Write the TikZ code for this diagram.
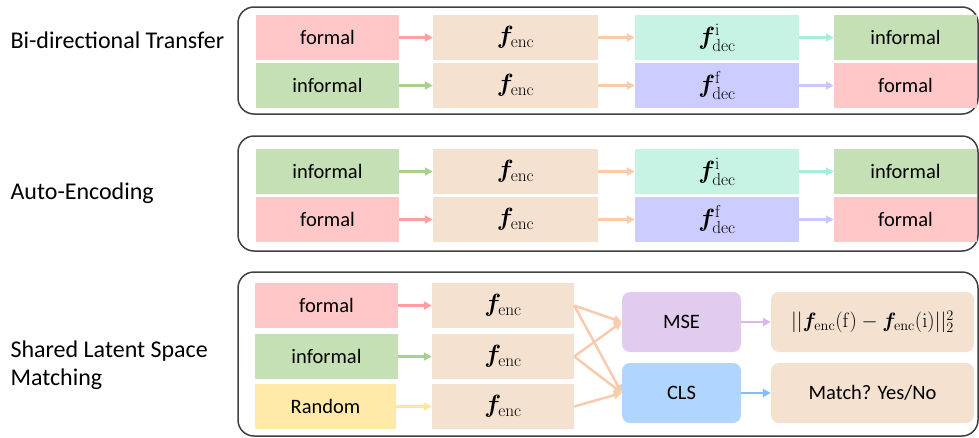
\documentclass[tikz,border=0pt]{standalone}
\usepackage{amsmath,bm}
\usepackage[no-math]{fontspec}
\setmainfont{Carlito}
\usetikzlibrary{arrows.meta}
\definecolor{formalc}{HTML}{FFC7C7}
\definecolor{informalc}{HTML}{C5E0B4}
\definecolor{encc}{HTML}{F4E1D0}
\definecolor{decic}{HTML}{C6F3E3}
\definecolor{decfc}{HTML}{CCCCFF}
\definecolor{randc}{HTML}{FFEAAA}
\definecolor{msec}{HTML}{E1CCF0}
\definecolor{clsc}{HTML}{B0D6FF}
\definecolor{formala}{HTML}{FF9F9F}
\definecolor{informala}{HTML}{A9D18E}
\definecolor{enca}{HTML}{F8CBAD}
\definecolor{decia}{HTML}{A6EEDC}
\definecolor{decfa}{HTML}{C8C8FF}
\definecolor{randa}{HTML}{FFE699}
\definecolor{msea}{HTML}{D9B6F0}
\definecolor{clsa}{HTML}{80BFFF}
\newcommand{\fenc}{{\fontsize{23.5}{27}\selectfont$\bm{f}_{\mathrm{enc}}$}}
\newcommand{\fdec}[1]{{\fontsize{23.5}{27}\selectfont$\bm{f}^{\mathrm{#1}}_{\mathrm{dec}}$}}
\begin{document}
\begin{tikzpicture}[x=1pt,y=-1pt,font=\fontsize{20.5}{24}\selectfont]
\tikzstyle{panel} = [draw=black!75, line width=1.5pt, rounded corners=16pt] % рамка блока
\tikzstyle{box} = [rectangle, inner sep=0pt, minimum height=45pt] % прямоугольник
\tikzstyle{wbox} = [box, minimum width=143pt] % вход / выход
\tikzstyle{fbox} = [box, minimum width=165pt] % энкодер, декодер
\tikzstyle{rbox} = [rectangle, rounded corners=8pt, inner sep=0pt, minimum height=60pt] % MSE, CLS
\tikzstyle{arr} = [line width=2.5pt, -{Triangle[length=8pt,width=8pt]}] % стрелка
\tikzstyle{title} = [anchor=west, align=left, font=\fontsize{24}{28}\selectfont] % подпись слева
\useasboundingbox (0,0) rectangle (979,437);
% рамки
\draw[panel] (238,7) rectangle (978,114);
\draw[panel] (238,136) rectangle (978,251);
\draw[panel] (238,272) rectangle (978,436);
% подписи
\node[title] (t1) at (7,40) {Bi-directional Transfer};
\node[title] (t2) at (7,193) {Auto-Encoding};
\node[title] (t3) at (7,365) {Shared Latent Space\\Matching};
% Bi-directional Transfer
\node[wbox, fill=formalc] (a1) at (327.5,37.5) {formal};
\node[fbox, fill=encc] (a2) at (515.5,37.5) {\fenc};
\node[fbox, fill=decic, minimum width=164pt] (a3) at (717,37.5) {\fdec{i}};
\node[wbox, fill=informalc] (a4) at (905.5,37.5) {informal};
\node[wbox, fill=informalc] (b1) at (327.5,85.5) {informal};
\node[fbox, fill=encc] (b2) at (515.5,85.5) {\fenc};
\node[fbox, fill=decfc, minimum width=164pt] (b3) at (717,85.5) {\fdec{f}};
\node[wbox, fill=formalc] (b4) at (905.5,85.5) {formal};
\draw[arr, formala] (a1) -- (a2);
\draw[arr, enca] (a2) -- (a3);
\draw[arr, decia] (a3) -- (a4);
\draw[arr, informala] (b1) -- (b2);
\draw[arr, enca] (b2) -- (b3);
\draw[arr, decfa] (b3) -- (b4);
% Auto-Encoding
\node[wbox, fill=informalc] (c1) at (327.5,171.5) {informal};
\node[fbox, fill=encc] (c2) at (515.5,171.5) {\fenc};
\node[fbox, fill=decic, minimum width=164pt] (c3) at (717,171.5) {\fdec{i}};
\node[wbox, fill=informalc] (c4) at (905.5,171.5) {informal};
\node[wbox, fill=formalc] (d1) at (327.5,219.5) {formal};
\node[fbox, fill=encc] (d2) at (515.5,219.5) {\fenc};
\node[fbox, fill=decfc, minimum width=164pt] (d3) at (717,219.5) {\fdec{f}};
\node[wbox, fill=formalc] (d4) at (905.5,219.5) {formal};
\draw[arr, informala] (c1) -- (c2);
\draw[arr, enca] (c2) -- (c3);
\draw[arr, decia] (c3) -- (c4);
\draw[arr, formala] (d1) -- (d2);
\draw[arr, enca] (d2) -- (d3);
\draw[arr, decfa] (d3) -- (d4);
% Shared Latent Space Matching
\node[wbox, fill=formalc] (e1) at (326.5,305.5) {formal};
\node[wbox, fill=informalc] (f1) at (326.5,356.5) {informal};
\node[wbox, fill=randc, minimum width=141pt] (g1) at (325.5,406.5) {Random};
\node[fbox, fill=encc, minimum width=142pt] (e2) at (503,305.5) {\fenc};
\node[fbox, fill=encc, minimum width=142pt] (f2) at (503,356.5) {\fenc};
\node[fbox, fill=encc, minimum width=142pt] (g2) at (503,406.5) {\fenc};
\node[rbox, fill=msec, minimum width=119pt] (mse) at (681.5,322) {MSE};
\node[rbox, fill=clsc, minimum width=119pt] (cls) at (681.5,393) {CLS};
\node[rbox, fill=encc, minimum width=203pt] (loss) at (872.5,322)
  {$||\bm{f}_{\mathrm{enc}}(\mathrm{f})-\bm{f}_{\mathrm{enc}}(\mathrm{i})||_2^2$};
\node[rbox, fill=encc, minimum width=203pt] (match) at (872.5,393) {Match? Yes/No};
\draw[arr, formala] (e1) -- (e2);
\draw[arr, informala] (f1) -- (f2);
\draw[arr, randa] (g1) -- (g2);
\draw[arr, enca] (e2.east) -- (mse.west);
\draw[arr, enca] (e2.east) -- (cls.west);
\draw[arr, enca] (f2.east) -- (mse.west);
\draw[arr, enca] (f2.east) -- (cls.west);
\draw[arr, enca] (g2.east) -- (cls.west);
\draw[arr, msea] (mse) -- (loss);
\draw[arr, clsa] (cls) -- (match);
\end{tikzpicture}
\end{document}
